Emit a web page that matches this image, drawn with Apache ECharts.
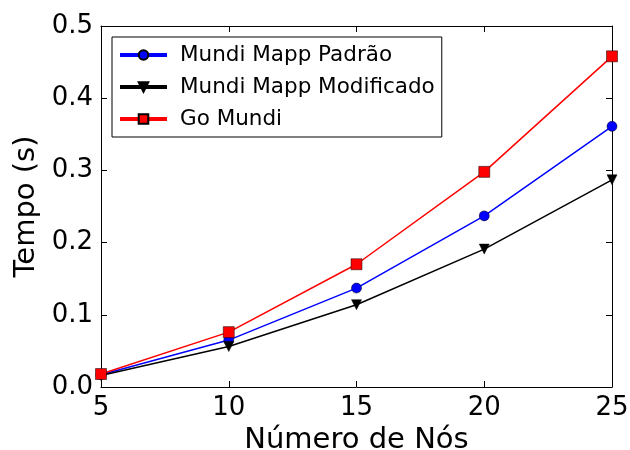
<!DOCTYPE html>
<html>
<head>
<meta charset="utf-8">
<script src="https://cdn.jsdelivr.net/npm/echarts@6/dist/echarts.min.js"></script>
<style>
  html, body { margin: 0; padding: 0; background: #fff; }
  #chart { width: 630px; height: 450px; }
</style>
</head>
<body>
<div id="chart"></div>
<script>
// Execution time versus number of nodes for the three implementations
const nodes = [5, 10, 15, 20, 25];
const padrao = [0.017, 0.065, 0.137, 0.237, 0.361];
const modificado = [0.016, 0.056, 0.114, 0.191, 0.287];
const goMundi = [0.018, 0.076, 0.170, 0.298, 0.458];
const seriesNames = ['Mundi Mapp Padrão', 'Mundi Mapp Modificado', 'Go Mundi'];
const xTicks = [5, 10, 15, 20, 25];
const yTicks = ['0.0', '0.1', '0.2', '0.3', '0.4', '0.5'];

const FONT = 'DejaVu Sans';

function pairs(ys) {
  return nodes.map((x, i) => [x, ys[i]]);
}

const chart = echarts.init(document.getElementById('chart'), null, { renderer: 'canvas' });

const tickStyle = { show: true, inside: true, length: 6, lineStyle: { color: '#000', width: 1 } };
const lineAx = { show: true, onZero: false, lineStyle: { color: '#000', width: 1 } };

function mkSeries(name, data, color, symbol, size, rotate) {
  return {
    name: name,
    type: 'line',
    data: pairs(data),
    symbol: symbol,
    symbolSize: size,
    symbolRotate: rotate || 0,
    showSymbol: true,
    clip: false,
    lineStyle: { color: color, width: 1.5 },
    itemStyle: { color: color, borderColor: '#000', borderWidth: 0.5, opacity: 1 },
    emphasis: { disabled: true },
    animation: false,
    z: 3
  };
}

chart.setOption({
  animation: false,
  backgroundColor: '#fff',
  grid: { left: 101, right: 18, top: 26, bottom: 63, containLabel: false, outerBoundsMode: 'none' },
  legend: {
    orient: 'vertical',
    left: 112,
    top: 37,
    width: 330,
    padding: [6, 7, 6, 6],
    itemGap: 8,
    itemWidth: 47,
    itemHeight: 12,
    borderColor: '#000',
    borderWidth: 1,
    borderRadius: 0,
    backgroundColor: '#fff',
    data: seriesNames,
    lineStyle: { width: 4 },
    textStyle: { fontFamily: FONT, fontSize: 21.5, lineHeight: 24, color: '#000', padding: [0, 0, 0, 8] },
    selectedMode: false
  },
  xAxis: [
    {
      type: 'value', min: 5, max: 25, interval: 5,
      name: 'Número de Nós', nameLocation: 'middle', nameGap: 38,
      nameTextStyle: { fontFamily: FONT, fontSize: 29, color: '#000' },
      axisLine: lineAx, axisTick: tickStyle,
      axisLabel: { fontFamily: FONT, fontSize: 26, color: '#000', margin: 8,
        formatter: v => String(xTicks[xTicks.indexOf(v)]) },
      splitLine: { show: false }
    },
    {
      type: 'value', position: 'top', min: 5, max: 25, interval: 5,
      axisLine: lineAx, axisTick: tickStyle, axisLabel: { show: false }, splitLine: { show: false }
    }
  ],
  yAxis: [
    {
      type: 'value', min: 0, max: 0.5, interval: 0.1,
      name: 'Tempo (s)', nameLocation: 'middle', nameGap: 60,
      nameTextStyle: { fontFamily: FONT, fontSize: 29, color: '#000' },
      axisLine: lineAx, axisTick: tickStyle,
      axisLabel: { fontFamily: FONT, fontSize: 26, color: '#000', margin: 8,
        formatter: v => yTicks[Math.round(v * 10)] },
      splitLine: { show: false }
    },
    {
      type: 'value', position: 'right', min: 0, max: 0.5, interval: 0.1,
      axisLine: lineAx, axisTick: tickStyle, axisLabel: { show: false }, splitLine: { show: false }
    }
  ],
  series: [
    mkSeries(seriesNames[0], padrao, '#0000ff', 'circle', 10),
    mkSeries(seriesNames[1], modificado, '#000000', 'triangle', 10, 180),
    mkSeries(seriesNames[2], goMundi, '#ff0000', 'rect', 11)
  ]
});
</script>
</body>
</html>
